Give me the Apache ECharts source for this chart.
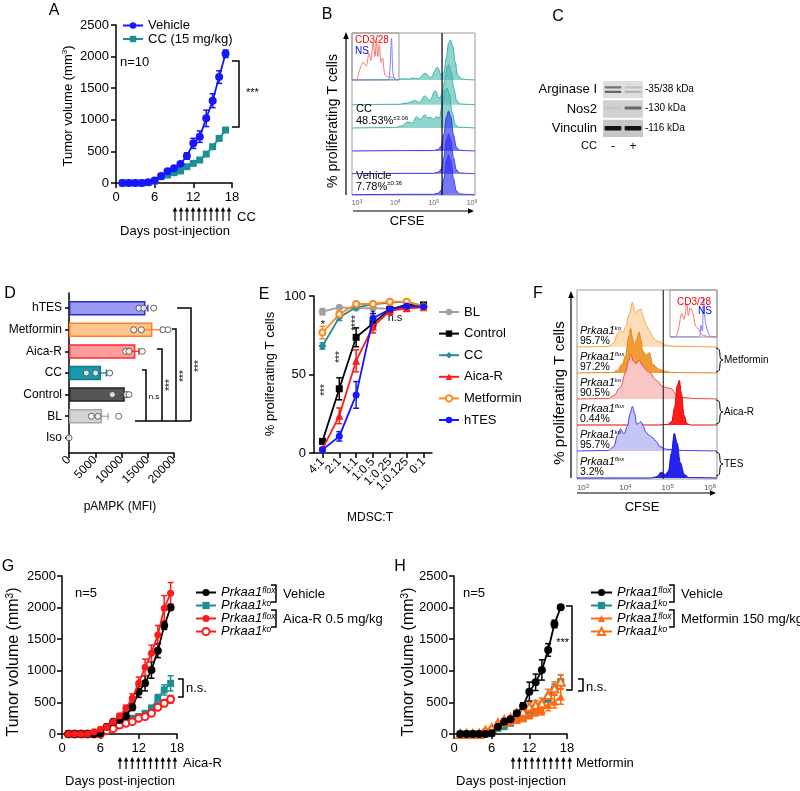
<!DOCTYPE html>
<html><head><meta charset="utf-8">
<script src="https://cdn.jsdelivr.net/npm/echarts@6/dist/echarts.min.js"></script>
<style>html,body{margin:0;padding:0;background:#fff;}#chart{width:800px;height:791px;}</style>
</head><body><div id="chart"></div>
<script>
const FONT = "'Liberation Sans', Arial, sans-serif";

// ================= DATA =================
// Panel A
const aDays = [1,2,3,4,5,6,7,8,9,10,11,12,13,14,15,16,17];
const aVehicle = [0,0,0,0,10,40,110,185,232,300,427,627,733,1023,1302,1676,2045];
const aVehicleSem = [0,0,0,0,5,8,15,20,25,30,50,80,90,130,110,100,60];
const aCC = [0,0,0,0,8,30,100,126,163,190,258,311,364,458,574,706,838];
const aCCSem = [0,0,0,0,3,5,8,10,12,14,15,18,20,22,25,28,30];
const dayTicks = [0,6,12,18];
const tumorTicks = [0,500,1000,1500,2000,2500];

// Panel B (CFSE histograms, x = log10 CFSE, y = relative count)
const bCC1 = [[2.87,0],[4.0,0.01],[4.2,0.03],[4.35,0.02],[4.46,0.05],[4.6,0.03],[4.78,0.17],[4.92,0.06],[5.1,0.32],[5.2,0.12],[5.27,0.2],[5.33,0.55],[5.39,0.92],[5.44,1.0],[5.5,0.85],[5.56,0.45],[5.63,0.12],[5.72,0.03],[5.85,0.01],[6.08,0]];
const bCC2 = [[2.87,0],[4.1,0.01],[4.3,0.04],[4.51,0.1],[4.63,0.06],[4.77,0.22],[4.9,0.1],[5.04,0.35],[5.14,0.16],[5.22,0.25],[5.29,0.6],[5.35,0.95],[5.40,1.0],[5.46,0.82],[5.53,0.4],[5.6,0.1],[5.7,0.02],[5.85,0.01],[6.08,0]];
const bCC3 = [[2.87,0],[4.0,0.01],[4.16,0.05],[4.33,0.15],[4.45,0.12],[4.55,0.28],[4.66,0.22],[4.77,0.33],[4.85,0.25],[4.91,0.27],[5.0,0.22],[5.07,0.28],[5.15,0.25],[5.23,0.6],[5.3,0.95],[5.35,1.0],[5.41,0.85],[5.48,0.4],[5.56,0.1],[5.65,0.02],[6.08,0]];
const bVeh = [[2.87,0],[4.5,0.01],[5.0,0.01],[5.12,0.04],[5.2,0.12],[5.27,0.42],[5.33,0.85],[5.39,1.0],[5.45,0.85],[5.52,0.4],[5.59,0.1],[5.68,0.02],[5.8,0.01],[6.08,0]];
const bInsetRed = [[0,0],[0.9,0],[1.6,0.25],[2.4,0.45],[3.0,0.35],[3.6,0.68],[4.0,0.5],[4.5,0.95],[4.9,0.6],[5.2,1.0],[5.5,0.6],[5.8,0.9],[6.2,0.45],[6.5,0.56],[7.0,0.13],[7.8,0.08],[8.8,0.06],[9.5,0.01],[10,0]];
const bInsetBlue = [[0,0],[7.6,0],[8.0,0.15],[8.4,1.07],[8.7,0.2],[9.1,0.03],[10,0]];
const bGate = 5.22;
const cfseDecades = [3,4,5,6];

// Panel C (western blot band darkness per lane: CC -, CC +)
const blotRows = ['Arginase I','Nos2','Vinculin'];
const blotLanes = ['-','+'];
const blotKda = ['-35/38 kDa','-130 kDa','-116 kDa'];
const blotBg = [0.13,0.18,0.22];
const arginaseUpper = [0.55,0.25];
const arginaseLower = [0.6,0.3];
const nos2Band = [0.22,0.6];
const vinculinBand = [0.92,0.92];

// Panel D
const dCats = ['hTES','Metformin','Aica-R','CC','Control','BL','Iso'];
const dMeans = [14420,15750,12510,5970,10480,6160,0];
const dSem = [600,1800,800,1150,500,1300,0];
const dDots = [[13330,14220,16130],[12320,13780,17900,18860],[10790,11430,13970],[3300,5080,7750],[8250,10920,11430],[4250,5520,9460],[0]];
const dTicks = [0,5000,10000,15000,20000];

// Panel E
const eRatios = ['4:1','2:1','1:1','1:0.5','1:0.25','1:0.125','0:1'];
const eBL = [90,92.8,92.2,92.2,92,92.8,93];
const eBLSem = [2,1,1,1,1,1,1];
const eControl = [7.4,40.9,73.7,82.6,91.5,94.3,94.3];
const eControlSem = [1,7,6,3,1,1,1];
const eCC = [68.2,86.4,92.8,94.7,95.8,96.4,93.6];
const eCCSem = [2,2,1,1,1,1,1];
const eAicaR = [2.5,23.7,58.7,80.5,90.5,92.2,92.8];
const eAicaRSem = [1,5,7,4,1,1,1];
const eMetformin = [76.7,88.3,94.9,94.9,96.4,96.4,93.2];
const eMetforminSem = [4,2,1,1,1,1,1];
const eHTES = [2.1,10.6,37,85.8,91.5,93.6,93.2];
const eHTESSem = [1,3,8.5,3,1,1,1];
const pctTicks = [0,50,100];

// Panel F (CFSE histograms)
const fKoMet = [[2.86,0],[3.6,0.01],[3.73,0.1],[3.82,0.3],[3.89,0.37],[3.95,0.33],[4.01,0.45],[4.1,0.75],[4.17,1.0],[4.22,0.8],[4.25,0.77],[4.3,0.82],[4.37,0.85],[4.42,0.7],[4.45,0.6],[4.5,0.48],[4.57,0.37],[4.65,0.22],[4.73,0.14],[4.81,0.12],[4.93,0.05],[5.1,0.02],[5.5,0.01],[6.17,0]];
const fFloxMet = [[2.86,0],[3.7,0.01],[3.81,0.05],[3.93,0.2],[4.01,0.4],[4.08,0.8],[4.13,1.0],[4.17,0.8],[4.21,0.58],[4.27,0.75],[4.33,0.92],[4.37,0.75],[4.41,0.5],[4.5,0.4],[4.57,0.46],[4.65,0.19],[4.81,0.08],[4.93,0.04],[5.1,0.01],[6.17,0]];
const fKoAica = [[2.86,0],[3.6,0.01],[3.73,0.08],[3.89,0.27],[4.01,0.6],[4.08,0.85],[4.13,1.0],[4.19,0.85],[4.25,0.79],[4.33,0.87],[4.39,0.78],[4.45,0.7],[4.53,0.62],[4.61,0.57],[4.69,0.45],[4.77,0.4],[4.85,0.3],[4.93,0.27],[5.01,0.25],[5.09,0.23],[5.21,0.1],[5.35,0.04],[5.6,0.01],[6.17,0]];
const fFloxAica = [[2.86,0],[4.8,0],[5.0,0.01],[5.1,0.08],[5.17,0.4],[5.23,0.88],[5.28,1.0],[5.33,0.7],[5.39,0.22],[5.46,0.03],[5.55,0],[6.17,0]];
const fKoTes = [[2.86,0],[3.6,0.01],[3.73,0.1],[3.82,0.35],[3.89,0.5],[3.97,0.38],[4.05,0.55],[4.12,0.85],[4.17,1.0],[4.22,0.85],[4.27,0.6],[4.32,0.62],[4.37,0.66],[4.43,0.55],[4.49,0.42],[4.57,0.35],[4.65,0.3],[4.69,0.25],[4.75,0.2],[4.81,0.1],[4.97,0.04],[5.2,0.02],[5.4,0.01],[6.17,0]];
const fFloxTes = [[2.86,0],[4.6,0],[4.75,0.03],[4.85,0.13],[4.95,0.08],[5.02,0.15],[5.09,0.55],[5.16,1.0],[5.23,0.78],[5.3,0.35],[5.4,0.08],[5.5,0.01],[6.17,0]];
const fInsetRed = [[0,0],[1.1,0],[1.8,0.2],[2.5,0.6],[3.0,0.45],[3.6,0.85],[3.9,0.55],[4.3,0.75],[4.9,0.6],[5.4,0.3],[6.1,0.2],[6.8,0.05],[7.5,0.03],[8.6,0],[10,0]];
const fInsetBlue = [[0,0],[6.1,0],[6.6,0.3],[6.9,0.15],[7.1,1.0],[7.5,0.4],[7.9,0.2],[8.4,0.05],[8.9,0],[10,0]];
const fGate = 4.9;
const fGeno = ['ko','flox','ko','flox','ko','flox'];
const fPct = ['95.7%','97.2%','90.5%','0.44%','95.7%','3.2%'];
const fTreat = ['Metformin','Aica-R','TES'];

// Panel G
const gDays = [1,2,3,4,5,6,7,8,9,10,11,12,13,14,15,16,17];
const gFloxVeh = [0,0,0,0,0,10,116,195,222,285,422,670,802,1013,1319,1715,2000];
const gFloxVehSem = [0,0,0,0,0,10,20,25,30,40,50,90,120,130,110,60,30];
const gKoVeh = [0,0,0,0,0,5,90,116,142,222,248,274,327,406,565,697,802];
const gKoVehSem = [0,0,0,0,0,5,10,15,20,25,30,40,40,50,60,80,120];
const gFloxAica = [0,0,0,0,37,74,116,195,285,406,565,802,1055,1277,1567,1990,2227];
const gFloxAicaSem = [0,0,0,0,10,15,20,30,40,50,70,100,130,130,150,200,170];
const gKoAica = [0,0,0,0,0,0,53,84,142,169,195,248,274,327,422,485,549];
const gKoAicaSem = [0,0,0,0,0,0,10,10,15,20,20,25,25,30,40,50,60];

// Panel H
const hFloxVeh = [0,0,0,0,0,10,116,195,232,327,443,670,818,1013,1330,1741,2005];
const hFloxVehSem = [0,0,0,0,0,10,20,25,30,40,50,150,130,160,100,60,10];
const hKoVeh = [0,0,0,0,0,10,90,116,169,222,248,300,354,459,565,707,828];
const hKoVehSem = [0,0,0,0,0,5,10,15,20,25,30,40,40,50,60,80,110];
const hFloxMet = [0,0,0,37,63,90,127,179,195,222,248,300,354,380,459,512,591];
const hFloxMetSem = [0,0,0,10,15,15,20,25,30,40,50,60,70,80,90,100,120];
const hKoMet = [0,0,0,0,53,90,169,222,248,327,354,433,459,485,617,723,828];
const hKoMetSem = [0,0,0,0,15,15,20,25,30,40,50,60,70,80,90,100,110];

// ================= BUILD =================
const grids=[], xAxes=[], yAxes=[], series=[], legends=[], gfx=[];
const plain = v => String(v);
function addGrid(g, xa, ya){ const i=grids.length; grids.push(g); xa.gridIndex=i; ya.gridIndex=i; xAxes.push(xa); yAxes.push(ya); return i; }
function hidden(min,max){ return {type:'value', show:false, min:min, max:max, splitLine:{show:false}, axisLine:{show:false}, axisTick:{show:false}, axisLabel:{show:false}}; }
function lab(size, extra){ return Object.assign({color:'#000', fontFamily:FONT, fontSize:size}, extra||{}); }
function ax(o){ return Object.assign({axisLine:{show:true,onZero:false,lineStyle:{color:'#000',width:1.5}}, axisTick:{show:true,length:5,lineStyle:{color:'#000',width:1.5}}, splitLine:{show:false}}, o); }
function lineS(gi, name, xs, ys, color, symbol, size, z){
  return {type:'line', name:name, xAxisIndex:gi, yAxisIndex:gi, data: xs ? xs.map((x,i)=>[x,ys[i]]) : ys.slice(),
    symbol:symbol, symbolSize:size, showSymbol:true, showAllSymbol:true, silent:true,
    itemStyle:{color:color, borderColor:color, borderWidth: symbol.indexOf('empty')===0?1.6:0},
    lineStyle:{color:color,width:1.8}, z:z||3};
}
function vErr(gi, xs, mean, sem, color, cap, z){
  return {type:'custom', xAxisIndex:gi, yAxisIndex:gi, silent:true, z:z||2, encode:{x:0,y:[1,2]},
    data: mean.map((m,i)=>[xs?xs[i]:i, m-sem[i], m+sem[i]]),
    renderItem:(p,api)=>{ const a=api.coord([api.value(0),api.value(1)]), b=api.coord([api.value(0),api.value(2)]);
      if (Math.abs(a[1]-b[1])<1) return {type:'group', children:[]};
      const st={stroke:color, lineWidth:1.5};
      return {type:'group', children:[
        {type:'line', shape:{x1:a[0],y1:a[1],x2:b[0],y2:b[1]}, style:st},
        {type:'line', shape:{x1:a[0]-cap,y1:a[1],x2:a[0]+cap,y2:a[1]}, style:st},
        {type:'line', shape:{x1:b[0]-cap,y1:b[1],x2:b[0]+cap,y2:b[1]}, style:st}]};
    }};
}
function hist(left,width,base,h,xr,ymax,data,line,fill,z,lw){
  const gi = addGrid({left:left,width:width,top:base-h,height:h}, hidden(xr[0],xr[1]), hidden(0,ymax));
  const s = {type:'line', xAxisIndex:gi, yAxisIndex:gi, data:data, smooth:0.35, smoothMonotone:'x', symbol:'none', showSymbol:false, clip:false, silent:true,
    lineStyle:{color:line,width:lw||1}, z:z};
  if (fill) s.areaStyle = {color:fill, opacity:1};
  series.push(s);
  return gi;
}
function T(x,y,text,size,o){ o=o||{};
  const st = {text:text, fill:o.color||'#000', fontSize:size, fontFamily:FONT, fontStyle:o.italic?'italic':'normal', fontWeight:o.weight||'normal',
      align:o.align||'left', textAlign:o.align||'left', verticalAlign:o.va||'middle', textVerticalAlign:o.va||'middle'};
  if (o.rich) st.rich = o.rich;
  gfx.push({type:'text', x:x, y:y, rotation:o.rot||0, z:100, silent:true, style:st});
}
function P(points,color,w){ gfx.push({type:'polyline', z:100, silent:true, shape:{points:points}, style:{stroke:color||'#000', lineWidth:w||1.5, fill:null}}); }
function arrowUp(x,yb,yt,c){ P([[x,yb],[x,yt+3]],c||'#000',1.2); gfx.push({type:'polygon', z:100, silent:true, shape:{points:[[x-2.3,yt+4.5],[x+2.3,yt+4.5],[x,yt]]}, style:{fill:c||'#000'}}); }
function arrowRight(x0,x1,y){ P([[x0,y],[x1-3,y]],'#000',1.2); gfx.push({type:'polygon', z:100, silent:true, shape:{points:[[x1-6,y-2.8],[x1-6,y+2.8],[x1,y]]}, style:{fill:'#000'}}); }
function brace(x,yt,yb){ const m=(yt+yb)/2;
  gfx.push({type:'bezierCurve', z:100, silent:true, shape:{x1:x,y1:yt,cpx1:x+7,cpy1:yt,cpx2:x+1,cpy2:m,x2:x+7,y2:m}, style:{stroke:'#000',lineWidth:1,fill:null}});
  gfx.push({type:'bezierCurve', z:100, silent:true, shape:{x1:x+7,y1:m,cpx1:x+1,cpy1:m,cpx2:x+7,cpy2:yb,x2:x,y2:yb}, style:{stroke:'#000',lineWidth:1,fill:null}});
}
// superscript token: small line box aligned to the top of the line raises the glyphs
const SUP = (s,extra)=>Object.assign({fontSize:s, fontFamily:FONT, verticalAlign:'top', lineHeight:4}, extra||{});

// ---------- Panel A ----------
const BLUE='#1616ff', TEAL='#1b8f92', RED='#ff1a1a', ORANGE='#ff6a13';
const gA = addGrid({left:116, top:25, width:116, height:158},
  ax({type:'value', min:dayTicks[0], max:dayTicks[dayTicks.length-1], interval:6, axisLabel:lab(13,{margin:8, formatter:plain})}),
  ax({type:'value', min:tumorTicks[0], max:tumorTicks[tumorTicks.length-1], interval:500, axisLabel:lab(13,{margin:7, formatter:plain})}));
series.push(vErr(gA, aDays, aCC, aCCSem, TEAL, 3));
series.push(vErr(gA, aDays, aVehicle, aVehicleSem, BLUE, 3));
series.push(lineS(gA, 'CC (15 mg/kg)', aDays, aCC, TEAL, 'rect', 7, 3));
series.push(lineS(gA, 'Vehicle', aDays, aVehicle, BLUE, 'circle', 8, 4));
legends.push({left:117, top:14, orient:'vertical', itemGap:0.5, itemWidth:20, itemHeight:8, selectedMode:false,
  data:['Vehicle','CC (15 mg/kg)'], textStyle:{fontFamily:FONT, fontSize:13, color:'#000', lineHeight:13}});
T(54,11,'A',16,{align:'center'});
T(68,106,'{m|Tumor volume (mm}{s|3}{m|)}',13,{rot:Math.PI/2, align:'center', rich:{m:{fontSize:13,fontFamily:FONT,lineHeight:14}, s:SUP(8)}});
T(120,62,'n=10',13);
P([[232,61],[239,61],[239,127],[232,127]]);
T(246,93,'***',11);
for (let i=0;i<10;i++) arrowUp(175+6*i,221,207);
T(237,217,'CC',13);
T(175,231,'Days post-injection',13,{align:'center'});

// ---------- Panel B ----------
const bX=[2.87,6.08], bL=352, bW=123;
const bBase=[80,104.7,128,151,173.7,194.7];
const TEAL_L='#3fb3a7', TEAL_F='rgba(70,185,172,0.6)', BLUE_L='#3a3aff', BLUE_F='rgba(35,35,235,0.62)';
hist(bL,bW,bBase[0],44,bX,1.1,bCC1,TEAL_L,TEAL_F,2);
hist(bL,bW,bBase[1],44,bX,1.1,bCC2,TEAL_L,TEAL_F,3);
hist(bL,bW,bBase[2],44,bX,1.1,bCC3,TEAL_L,TEAL_F,4);
hist(bL,bW,bBase[3],44,bX,1.1,bVeh,BLUE_L,BLUE_F,5);
hist(bL,bW,bBase[4],44,bX,1.1,bVeh,BLUE_L,BLUE_F,6);
hist(bL,bW,bBase[5],44,bX,1.1,bVeh,BLUE_L,BLUE_F,7);
const gBf = addGrid({left:bL, top:33, width:bW, height:162, show:true, borderColor:'#999', borderWidth:1, backgroundColor:'transparent'}, hidden(bX[0],bX[1]), hidden(0,1));
series.push({type:'line', xAxisIndex:gBf, yAxisIndex:gBf, data:[[bGate,0],[bGate,1]], symbol:'none', silent:true, lineStyle:{color:'#000',width:1.2}, z:20});
const gBi = addGrid({left:bL, top:33, width:47, height:47, show:true, borderColor:'#999', borderWidth:1}, hidden(0,10), hidden(0,1.2));
series.push({type:'line', xAxisIndex:gBi, yAxisIndex:gBi, data:bInsetRed, smooth:0.3, symbol:'none', silent:true, lineStyle:{color:'#ff7070',width:1}, z:21});
series.push({type:'line', xAxisIndex:gBi, yAxisIndex:gBi, data:bInsetBlue, smooth:0.3, symbol:'none', silent:true, lineStyle:{color:'#8080ff',width:1}, z:21});
const gBt = addGrid({left:357, top:194, width:115, height:1}, {type:'value', min:cfseDecades[0], max:cfseDecades[3], interval:1, axisLine:{show:false}, axisTick:{show:false}, splitLine:{show:false},
  axisLabel:{color:'#666', fontFamily:FONT, fontSize:7, margin:4, formatter:v=>'{m|10}{s|'+v+'}', rich:{m:{color:'#666',fontSize:7,fontFamily:FONT,lineHeight:8}, s:SUP(5,{color:'#666',lineHeight:3})}}}, hidden(0,1));
T(327,15,'B',16,{align:'center'});
T(333,121,'% proliferating T cells',14,{rot:Math.PI/2, align:'center'});
P([[346,195],[346,37]],'#000',1.2); gfx.push({type:'polygon', z:100, silent:true, shape:{points:[[343.2,39],[348.8,39],[346,32]]}, style:{fill:'#000'}});
arrowRight(353,474,211);
T(407,221,'CFSE',13,{align:'center'});
const pctRich = {a:{fontSize:11,fontFamily:FONT,lineHeight:12}, s:SUP(6,{lineHeight:3})};
T(356,109,'CC',11);
T(356,121,'{a|48.53%}{s|±3.06}',11,{rich:pctRich});
T(356,175.5,'Vehicle',11);
T(356,186.5,'{a|7.78%}{s|±0.36}',11,{rich:pctRich});
T(355,40,'CD3/28',10,{color:'#ff0000'});
T(355,51,'NS',10,{color:'#0000ff'});

// ---------- Panel C ----------
const gC = addGrid({left:603, top:80, width:40, height:58},
  {type:'category', data:blotLanes, axisLine:{show:false}, axisTick:{show:false}, splitLine:{show:false}, axisLabel:lab(12,{margin:3})},
  {type:'category', data:blotRows, inverse:true, axisLine:{show:false}, axisTick:{show:false}, splitLine:{show:false}, axisLabel:lab(13,{margin:6})});
series.push({type:'custom', xAxisIndex:gC, yAxisIndex:gC, silent:true, z:2, encode:{x:0,y:1},
  data: blotBg.map((d,i)=>[0,i,d]),
  renderItem:(p,api)=>{ const r=api.value(1); const c0=api.coord([0,r]), c1=api.coord([1,r]), s=api.size([1,1]); const g=Math.round(255*(1-api.value(2)));
    return {type:'rect', shape:{x:c0[0]-s[0]/2, y:c0[1]-s[1]/2+1, width:c1[0]-c0[0]+s[0], height:s[1]-2}, style:{fill:'rgb('+g+','+g+','+g+')'}}; }});
const blotBands=[];
blotLanes.forEach((l,li)=>{ blotBands.push([li,0,-1,arginaseUpper[li]],[li,0,1,arginaseLower[li]],[li,1,0,nos2Band[li]],[li,2,0,vinculinBand[li]]); });
series.push({type:'custom', xAxisIndex:gC, yAxisIndex:gC, silent:true, z:3, encode:{x:0,y:1},
  data: blotBands,
  renderItem:(p,api)=>{ const r=api.value(1); const c=api.coord([api.value(0),r]), s=api.size([1,1]); const th=[2.2,3.2,4.5][r];
    const y=c[1]+api.value(2)*2.3+(r===1?-1:0); const g=Math.round(255*(1-api.value(3)));
    return {type:'rect', shape:{x:c[0]-s[0]*0.42, y:y-th/2, width:s[0]*0.84, height:th, r:1}, style:{fill:'rgb('+g+','+g+','+g+')'}}; }});
T(558,17,'C',16,{align:'center'});
blotKda.forEach((k,i)=>T(645,[89,108,128][i],k,10));
T(597,146,'CC',11,{align:'right'});

// ---------- Panel D ----------
const dFill=['#9b9bf6','#ffc58c','#ff9d9d','#1a98ac','#555555','#d4d4d4','#ffffff'];
const dStroke=['#2c2cc4','#ff7f22','#ff2a2a','#137a8a','#222222','#a8a8a8','#000'];
const gD = addGrid({left:69, top:293, width:105, height:160},
  ax({type:'value', min:dTicks[0], max:dTicks[dTicks.length-1], interval:5000, axisLabel:lab(12,{margin:5, rotate:45, formatter:plain})}),
  ax({type:'value', inverse:true, min:-0.7, max:dCats.length-0.3, axisLabel:lab(12,{margin:7, customValues:dCats.map((c,i)=>i), formatter:v=>dCats[Math.round(v)]||''}),
      axisTick:{show:true, length:4, customValues:dCats.map((c,i)=>i), lineStyle:{color:'#000',width:1.5}}}));
series.push({type:'custom', xAxisIndex:gD, yAxisIndex:gD, silent:true, z:2, encode:{x:0,y:1},
  data: dMeans.map((v,i)=>[v,i]),
  renderItem:(p,api)=>{ const v=api.value(0), c=api.value(1); if (v<=0) return {type:'group',children:[]}; const a=api.coord([0,c]), b=api.coord([v,c]);
    return {type:'rect', shape:{x:a[0]+0.75, y:a[1]-6.5, width:b[0]-a[0]-0.75, height:13}, style:{fill:dFill[c], stroke:dStroke[c], lineWidth:1.5}}; }});
series.push({type:'custom', xAxisIndex:gD, yAxisIndex:gD, silent:true, z:3, encode:{x:[0,1],y:2},
  data: dMeans.map((v,i)=>[v-dSem[i], v+dSem[i], i]),
  renderItem:(p,api)=>{ const c=api.value(2); const a=api.coord([api.value(0),c]), b=api.coord([api.value(1),c]); if (b[0]-a[0]<1) return {type:'group',children:[]};
    const st={stroke:dStroke[c], lineWidth:1.3};
    return {type:'group', children:[{type:'line',shape:{x1:a[0],y1:a[1],x2:b[0],y2:b[1]},style:st},{type:'line',shape:{x1:b[0],y1:b[1]-3.5,x2:b[0],y2:b[1]+3.5},style:st}]}; }});
const dDotData=[]; dDots.forEach((arr,i)=>arr.forEach(v=>dDotData.push([v,i])));
series.push({type:'scatter', xAxisIndex:gD, yAxisIndex:gD, data:dDotData, symbol:'circle', symbolSize:6, silent:true, z:4, itemStyle:{color:'#fff', borderColor:'#444', borderWidth:1}});
T(10,294,'D',16,{align:'center'});
T(120,507,'pAMPK (MFI)',12,{align:'center'});
P([[135,421],[191,421]]);
P([[142,370],[146,370],[146,421]]);
P([[157,349],[162,349],[162,421]]);
P([[172,329],[176,329],[176,421]]);
P([[177,308],[191,308],[191,421]]);
T(154,397,'n.s',8,{align:'center'});
T(170,385,'***',10,{rot:Math.PI/2, align:'center'});
T(184,376,'***',10,{rot:Math.PI/2, align:'center'});
T(199,366,'***',10,{rot:Math.PI/2, align:'center'});

// ---------- Panel E ----------
const GRAY='#a0a0a0', ETEAL='#1d8e9c', EORANGE='#ff8a1c';
const gE = addGrid({left:314, top:296, width:118, height:157},
  ax({type:'category', data:eRatios, boundaryGap:true, axisTick:{show:true,alignWithLabel:true,length:5,lineStyle:{color:'#000',width:1.5}}, axisLabel:lab(12,{margin:7, rotate:45, interval:0})}),
  ax({type:'value', min:pctTicks[0], max:pctTicks[pctTicks.length-1], interval:50, axisLabel:lab(13,{margin:8, formatter:plain})}));
[[eBL,eBLSem,GRAY],[eControl,eControlSem,'#000'],[eCC,eCCSem,ETEAL],[eAicaR,eAicaRSem,RED],[eMetformin,eMetforminSem,EORANGE],[eHTES,eHTESSem,BLUE]].forEach(s=>series.push(vErr(gE,null,s[0],s[1],s[2],3)));
series.push(lineS(gE,'BL',null,eBL,GRAY,'circle',7,3));
series.push(lineS(gE,'Control',null,eControl,'#000','rect',7,4));
series.push(lineS(gE,'CC',null,eCC,ETEAL,'diamond',8,5));
series.push(lineS(gE,'Aica-R',null,eAicaR,RED,'triangle',8,6));
series.push(lineS(gE,'Metformin',null,eMetformin,EORANGE,'emptyCircle',6,7));
series.push(lineS(gE,'hTES',null,eHTES,BLUE,'circle',7,8));
legends.push({left:433, top:300.5, orient:'vertical', itemGap:8.6, itemWidth:20, itemHeight:8, selectedMode:false,
  data:['BL','Control','CC','Aica-R','Metformin','hTES'], textStyle:{fontFamily:FONT, fontSize:13, color:'#000', lineHeight:13}});
T(264,295,'E',16,{align:'center'});
T(270,374,'% proliferating T cells',13,{rot:Math.PI/2, align:'center'});
T(370,518,'MDSC:T',12,{align:'center'});
T(323,325,'*',11,{align:'center'});
T(325,390,'***',10,{rot:Math.PI/2, align:'center'});
T(340,357,'***',10,{rot:Math.PI/2, align:'center'});
T(356,323,'****',10,{rot:Math.PI/2, align:'center'});
T(373,315,'*',11,{align:'center'});
T(395,318,'n.s',11,{align:'center'});

// ---------- Panel F ----------
const fX=[2.86,6.17], fL=577, fW=140;
const fBase=[347,373,399,425,451,478];
const fRows=[[fKoMet,'#f6a445','#fddcb8'],[fFloxMet,'#e9861c','#f29a33'],[fKoAica,'#f04848','#f9c6c6'],[fFloxAica,'#e00000','#ff1c1c'],[fKoTes,'#3c3cff','#c6c6f5'],[fFloxTes,'#1414d6','#2424ee']];
fRows.forEach((r,i)=>hist(fL,fW,fBase[i],50,fX,1.12,r[0],r[1],r[2],2+i));
const gFf = addGrid({left:fL, top:290, width:fW, height:189, show:true, borderColor:'#999', borderWidth:1, backgroundColor:'transparent'}, hidden(fX[0],fX[1]), hidden(0,1));
series.push({type:'line', xAxisIndex:gFf, yAxisIndex:gFf, data:[[fGate,0],[fGate,1]], symbol:'none', silent:true, lineStyle:{color:'#222',width:1.1}, z:20});
const gFi = addGrid({left:670, top:290, width:47, height:47, show:true, borderColor:'#999', borderWidth:1}, hidden(0,10), hidden(0,1.2));
series.push({type:'line', xAxisIndex:gFi, yAxisIndex:gFi, data:fInsetRed, smooth:0.3, symbol:'none', silent:true, lineStyle:{color:'#ff7070',width:1}, z:21});
series.push({type:'line', xAxisIndex:gFi, yAxisIndex:gFi, data:fInsetBlue, smooth:0.3, symbol:'none', silent:true, lineStyle:{color:'#8080ff',width:1}, z:21});
const gFt = addGrid({left:583, top:478, width:127, height:1}, {type:'value', min:cfseDecades[0], max:cfseDecades[3], interval:1, axisLine:{show:false}, axisTick:{show:false}, splitLine:{show:false},
  axisLabel:{color:'#555', fontFamily:FONT, fontSize:8, margin:4, formatter:v=>'{m|10}{s|'+v+'}', rich:{m:{color:'#555',fontSize:8,fontFamily:FONT,lineHeight:9}, s:SUP(6,{color:'#555',lineHeight:3})}}}, hidden(0,1));
T(538,294,'F',16,{align:'center'});
T(560,393,'% proliferating T cells',15,{rot:Math.PI/2, align:'center'});
P([[571,478],[571,296]],'#000',1.2); gfx.push({type:'polygon', z:100, silent:true, shape:{points:[[568.2,298],[573.8,298],[571,291]]}, style:{fill:'#000'}});
arrowRight(577,716,493);
T(642,507,'CFSE',13,{align:'center'});
const fLabRich = {i:{fontSize:11,fontStyle:'italic',fontFamily:FONT,lineHeight:12}, s:SUP(6,{fontStyle:'italic',lineHeight:3})};
fBase.forEach((b,i)=>{
  T(580,b-16,'{i|Prkaa1}{s|'+fGeno[i]+'}',11,{rich:fLabRich});
  T(580,b-5.5,fPct[i],10.5);
});
[[348,372],[400,424],[452,476]].forEach((p,i)=>{ brace(716,p[0],p[1]); T(724,(p[0]+p[1])/2,fTreat[i],10); });
T(694,302,'CD3/28',10,{color:'#ff0000',align:'center'});
T(712,311,'NS',10,{color:'#0000ff',align:'right'});

// ---------- Panel G & H ----------
const GENO={gFV:'flox',gKV:'ko',gFA:'flox',gKA:'ko',hFV:'flox',hKV:'ko',hFM:'flox',hKM:'ko'};
const legRich={i:{fontSize:13,fontStyle:'italic',fontFamily:FONT,lineHeight:12.6}, s:SUP(8.5,{fontStyle:'italic',lineHeight:4})};
function tumorGrid(left,width){
  return addGrid({left:left, top:576, width:width, height:158},
    ax({type:'value', min:dayTicks[0], max:dayTicks[dayTicks.length-1], interval:6, axisLabel:lab(13,{margin:8, formatter:plain})}),
    ax({type:'value', min:tumorTicks[0], max:tumorTicks[tumorTicks.length-1], interval:500, axisLabel:lab(13,{margin:6, formatter:plain})}));
}
const gG = tumorGrid(62,115);
series.push(vErr(gG,gDays,gKoVeh,gKoVehSem,TEAL,3));
series.push(vErr(gG,gDays,gKoAica,gKoAicaSem,RED,3));
series.push(vErr(gG,gDays,gFloxVeh,gFloxVehSem,'#000',3));
series.push(vErr(gG,gDays,gFloxAica,gFloxAicaSem,RED,3));
series.push(lineS(gG,'gKV',gDays,gKoVeh,TEAL,'rect',7,3));
series.push(lineS(gG,'gKA',gDays,gKoAica,RED,'emptyCircle',7,4));
series.push(lineS(gG,'gFV',gDays,gFloxVeh,'#000','circle',8,5));
series.push(lineS(gG,'gFA',gDays,gFloxAica,RED,'circle',7,6));
legends.push({left:190, top:581, orient:'vertical', itemGap:0, itemWidth:20, itemHeight:9, selectedMode:false, data:['gFV','gKV','gFA','gKA'],
  formatter:n=>'{i|Prkaa1}{s|'+GENO[n]+'}', textStyle:{fontFamily:FONT,fontSize:13,color:'#000',lineHeight:12.6,rich:legRich}});
const titleRich = {m:{fontSize:16,fontFamily:FONT,lineHeight:17}, s:SUP(10,{lineHeight:5})};
T(8,567,'G',16,{align:'center'});
T(14,662,'{m|Tumor volume (mm}{s|3}{m|)}',16,{rot:Math.PI/2, align:'center', rich:titleRich});
T(75,593,'n=5',13);
P([[271,585],[276,585],[276,602],[271,602]]); T(283,594,'Vehicle',13);
P([[271,610],[276,610],[276,627],[271,627]]); T(283,619,'Aica-R 0.5 mg/kg',13);
P([[178,679],[183,679],[183,697],[178,697]]); T(186,688,'n.s.',13);
for (let i=0;i<10;i++) arrowUp(120+6.1*i,769,757);
T(183,763,'Aica-R',13);
T(120,781,'Days post-injection',13,{align:'center'});

const gH = tumorGrid(454,113);
series.push(vErr(gH,gDays,hKoVeh,hKoVehSem,TEAL,3));
series.push(vErr(gH,gDays,hFloxMet,hFloxMetSem,ORANGE,3));
series.push(vErr(gH,gDays,hKoMet,hKoMetSem,ORANGE,3));
series.push(vErr(gH,gDays,hFloxVeh,hFloxVehSem,'#000',3));
series.push(lineS(gH,'hKV',gDays,hKoVeh,TEAL,'rect',7,3));
series.push(lineS(gH,'hFM',gDays,hFloxMet,ORANGE,'triangle',8,4));
series.push(lineS(gH,'hKM',gDays,hKoMet,ORANGE,'emptyTriangle',8,5));
series.push(lineS(gH,'hFV',gDays,hFloxVeh,'#000','circle',8,6));
legends.push({left:585, top:581, orient:'vertical', itemGap:0, itemWidth:21, itemHeight:9, selectedMode:false, data:['hFV','hKV','hFM','hKM'],
  formatter:n=>'{i|Prkaa1}{s|'+GENO[n]+'}', textStyle:{fontFamily:FONT,fontSize:13,color:'#000',lineHeight:12.6,rich:legRich}});
T(400,567,'H',16,{align:'center'});
T(409,662,'{m|Tumor volume (mm}{s|3}{m|)}',16,{rot:Math.PI/2, align:'center', rich:titleRich});
T(463,593,'n=5',13);
P([[669,585],[674,585],[674,602],[669,602]]); T(681,594,'Vehicle',13);
P([[669,610],[674,610],[674,627],[669,627]]); T(681,619,'Metformin 150 mg/kg',13);
P([[566,606],[572,606],[572,690],[566,690]]); T(569,643,'***',11,{align:'right'});
P([[578,679],[583,679],[583,691],[578,691]]); T(586,687,'n.s.',13);
for (let i=0;i<10;i++) arrowUp(513+6.3*i,769,757);
T(576,763,'Metformin',13);
T(511,781,'Days post-injection',13,{align:'center'});

// ================= RENDER =================
const chart = echarts.init(document.getElementById('chart'), null, {renderer:'canvas', width:800, height:791});
chart.setOption({animation:false, backgroundColor:'#fff', textStyle:{fontFamily:FONT},
  grid:grids, xAxis:xAxes, yAxis:yAxes, series:series, legend:legends, graphic:{elements:gfx}});
</script></body></html>
